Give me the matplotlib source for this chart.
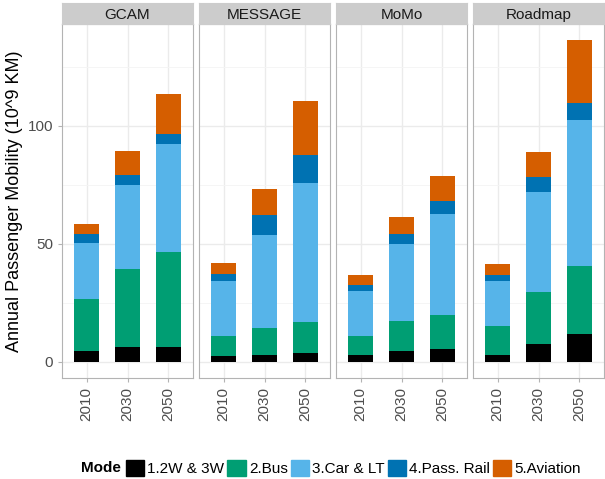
#!/usr/bin/env python3
import matplotlib
matplotlib.use("Agg")
import matplotlib.pyplot as plt
import matplotlib.patches as mpatches
import numpy as np

plt.rcParams['font.family'] = ['Liberation Sans', 'DejaVu Sans']

models = ["GCAM", "MESSAGE", "MoMo", "Roadmap"]
years = ["2010", "2030", "2050"]
modes = ["1.2W & 3W", "2.Bus", "3.Car & LT", "4.Pass. Rail", "5.Aviation"]
colors = ["#000000", "#009E73", "#56B4E9", "#0072B2", "#D55E00"]

# values per model: rows = mode, cols = year (2010, 2030, 2050)
gcam = [[4.5, 6.3, 6.3],
        [22.2, 33.2, 40.1],
        [23.8, 35.5, 46.1],
        [3.8, 4.1, 4.2],
        [4.1, 10.2, 16.8]]
message = [[2.3, 3.1, 3.7],
           [8.6, 11.4, 13.2],
           [23.5, 39.2, 59.0],
           [2.8, 8.4, 12.0],
           [4.7, 11.1, 22.7]]
momo = [[3.1, 4.5, 5.4],
        [7.8, 13.0, 14.3],
        [19.0, 32.3, 42.9],
        [2.8, 4.5, 5.5],
        [4.0, 7.3, 10.6]]
roadmap = [[3.1, 7.8, 12.0],
           [12.0, 22.0, 28.5],
           [19.0, 42.4, 62.2],
           [2.7, 6.1, 6.9],
           [4.7, 10.6, 26.8]]
data = [gcam, message, momo, roadmap]

W, H = 605, 479
fig = plt.figure(figsize=(W / 100, H / 100), dpi=100)

lefts = [62, 199, 336, 473]
pw = 131
top, bottom = 24, 378
strip_h = 21

ymax = max(np.sum(np.array(d), axis=0).max() for d in data)
ylo, yhi = -0.05 * ymax, 1.05 * ymax

for k, name in enumerate(models):
    ax = fig.add_axes([lefts[k] / W, (H - bottom) / H, pw / W, (bottom - top) / H])
    vals = np.array(data[k])
    x = np.arange(len(years))
    base = np.zeros(len(years))
    for m in range(len(modes)):
        ax.bar(x, vals[m], 0.6, bottom=base, color=colors[m], zorder=3)
        base += vals[m]
    ax.set_xlim(-0.6, 2.6)
    ax.set_ylim(ylo, yhi)
    ax.set_yticks([0, 50, 100])
    ax.set_yticks([25, 75, 125], minor=True)
    ax.set_xticks(x)
    ax.set_xticklabels(years, rotation=90)
    ax.grid(True, which="major", color="#EBEBEB", lw=1.0, zorder=0)
    ax.grid(True, which="minor", axis="y", color="#F4F4F4", lw=0.6, zorder=0)
    ax.tick_params(axis="both", which="both", length=3, color="#B3B3B3", labelsize=11,
                   labelcolor="#4D4D4D")
    ax.tick_params(axis="y", which="minor", length=0)
    for s in ax.spines.values():
        s.set_color("#B3B3B3")
        s.set_linewidth(0.8)
    if k == 0:
        ax.set_ylabel("Annual Passenger Mobility (10^9 KM)", fontsize=13, labelpad=3)
    else:
        ax.tick_params(axis="y", which="both", left=False, labelleft=False)
    # facet strip
    sax = fig.add_axes([lefts[k] / W, (H - top) / H, pw / W, strip_h / H])
    sax.set_facecolor("#CCCCCC")
    sax.set_xticks([])
    sax.set_yticks([])
    for s in sax.spines.values():
        s.set_color("#CCCCCC")
    sax.text(0.5, 0.45, name, ha="center", va="center", fontsize=11, color="#1A1A1A",
             transform=sax.transAxes)

handles = [mpatches.Patch(color=c, label=l) for c, l in zip(colors, modes)]
fig.text(81 / W, 1 - 468 / H, "Mode", fontsize=11, fontweight="bold", va="center")
fig.legend(handles=handles, loc="center left", bbox_to_anchor=(126 / W, 1 - 468 / H),
           ncol=5, frameon=False, fontsize=11, handlelength=1.2, handleheight=1.2,
           handletextpad=0.2, columnspacing=0.2, borderaxespad=0, borderpad=0)

plt.savefig("out.png", dpi=100)
